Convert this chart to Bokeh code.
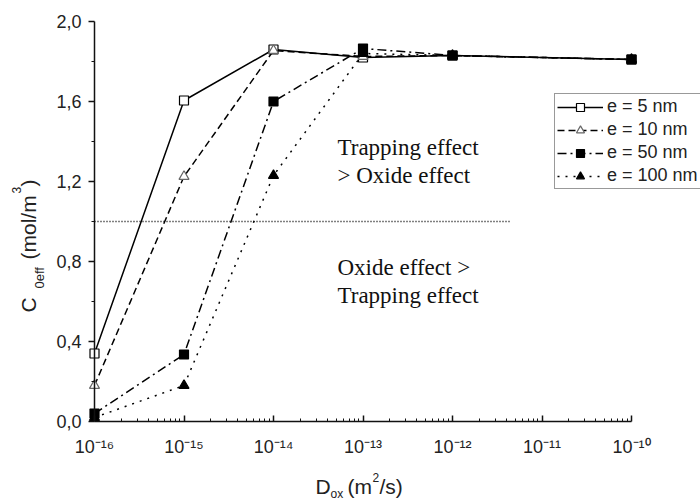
import math
from bokeh.plotting import figure
from bokeh.models import Range1d, FixedTicker, Label, Legend, LegendItem
from bokeh.embed import file_html
from bokeh.resources import INLINE

# ---------------- data ----------------
d_ox = [1e-16, 1e-15, 1e-14, 1e-13, 1e-12, 1e-10]
c_5nm = [0.34, 1.605, 1.86, 1.82, 1.83, 1.81]
c_10nm = [0.18, 1.225, 1.855, 1.825, 1.83, 1.81]
c_50nm = [0.04, 0.335, 1.60, 1.865, 1.83, 1.81]
c_100nm = [0.02, 0.18, 1.23, 1.84, 1.83, 1.81]
series_labels = ["e = 5 nm", "e = 10 nm", "e = 50 nm", "e = 100 nm"]

threshold_x = [1e-16, 4.5e-12]
threshold_y = [1.0, 1.0]

y_ticks = [0.0, 0.4, 0.8, 1.2, 1.6, 2.0]
y_minor = [0.2, 0.6, 1.0, 1.4, 1.8]
y_tick_labels = ["0,0", "0,4", "0,8", "1,2", "1,6", "2,0"]
x_ticks = [1e-16, 1e-15, 1e-14, 1e-13, 1e-12, 1e-11, 1e-10]
x_tick_labels = ["10⁻¹⁶", "10⁻¹⁵", "10⁻¹⁴", "10⁻¹³", "10⁻¹²", "10⁻¹¹", "10⁻¹⁰"]

# ---------------- layout ----------------
W, H = 700, 500
FL, FR, FT, FB = 94, 631, 21, 421   # where the axes sit, canvas px
X0, X1 = 1e-16, 1e-10
Y0, Y1 = 0.0, 2.0

def sx2x(sx):
    return 10 ** (math.log10(X0) + (sx - FL) / (FR - FL) * (math.log10(X1) - math.log10(X0)))

def sy2y(sy):
    return Y0 + (FB - sy) / (FB - FT) * (Y1 - Y0)

p = figure(width=W, height=H, x_axis_type="log",
           x_range=Range1d(sx2x(0), sx2x(W)), y_range=Range1d(sy2y(H), sy2y(0)),
           output_backend="svg", toolbar_location=None,
           min_border_left=0, min_border_right=0,
           min_border_top=0, min_border_bottom=0)
p.grid.visible = False
p.outline_line_color = None
p.background_fill_color = "white"
p.border_fill_color = "white"

x_minor = [k * 10.0 ** e for e in range(-16, -10) for k in range(2, 10)]
xa = p.xaxis[0]
xa.fixed_location = Y0
xa.bounds = (X0, X1)
xa.ticker = FixedTicker(ticks=x_ticks, minor_ticks=x_minor)
xa.major_label_overrides = dict(zip(x_ticks, x_tick_labels))
xa.major_tick_in = 6
xa.major_tick_out = 0
xa.minor_tick_in = 3
xa.minor_tick_out = 0
xa.major_label_standoff = 15
xa.major_label_text_font = "Liberation Sans"
xa.major_label_text_font_size = "18px"
xa.major_label_text_color = "#222222"

ya = p.yaxis[0]
ya.fixed_location = X0
ya.bounds = (Y0, Y1)
ya.ticker = FixedTicker(ticks=y_ticks, minor_ticks=y_minor)
ya.major_label_overrides = dict(zip(y_ticks, y_tick_labels))
ya.major_tick_in = 0
ya.major_tick_out = 6
ya.minor_tick_in = 0
ya.minor_tick_out = 3
ya.major_label_standoff = 7
ya.major_label_text_font = "Liberation Sans"
ya.major_label_text_font_size = "18px"
ya.major_label_text_color = "#222222"

for ax in (xa, ya):
    ax.axis_line_width = 1.5
    ax.axis_line_color = "#111111"
    ax.major_tick_line_width = 1.5
    ax.major_tick_line_color = "#111111"
    ax.minor_tick_line_color = "#111111"
    ax.minor_tick_line_width = 1

# ---------------- series ----------------
styles = [
    (c_5nm, "solid", "square", "white", "black", 9),
    (c_10nm, "7 4", "triangle", "white", "#666666", 10),
    (c_50nm, "9 4 2 4", "square", "black", "black", 9),
    (c_100nm, "2 6", "triangle", "black", "black", 10),
]
items = []
for (ys, dash, marker, fill, mline, size), lab in zip(styles, series_labels):
    lr = p.line(d_ox, ys, line_color="black", line_width=1.5, line_dash=dash)
    sr = p.scatter(d_ox, ys, marker=marker, size=size, fill_color=fill,
                   line_color=mline, line_width=1.2)
    items.append(LegendItem(label=lab, renderers=[lr, sr]))

p.line(threshold_x, threshold_y, line_color="black", line_width=1.5, line_dash="1 2")

legend = Legend(items=items, location=(554, H - 189),
                label_text_font="Liberation Sans", label_text_font_size="18px",
                label_text_color="#222222",
                glyph_width=46, glyph_height=20, label_height=20,
                label_standoff=4, spacing=2, padding=2, margin=0,
                border_line_color="#333333", border_line_width=1,
                background_fill_color="white", background_fill_alpha=1.0)
p.add_layout(legend)

# ---------------- annotations ----------------
serif = "Liberation Serif"
for txt, sy in [("Trapping effect", 147), ("> Oxide effect", 175),
                ("Oxide effect >", 267), ("Trapping effect", 295)]:
    p.add_layout(Label(x=sx2x(337), y=sy2y(sy), text=txt, text_font=serif,
                       text_font_size="23px", text_baseline="middle",
                       text_align="left", text_color="#111111"))

sans = "Liberation Sans"
BASE_FIX = 7  # measured offset of the rendered baseline

def piece(text, sx, sy, size, angle=0.0):
    if angle:
        sx -= BASE_FIX
    else:
        sy -= BASE_FIX
    p.add_layout(Label(x=sx2x(sx), y=sy2y(sy), text=text, text_font=sans,
                       text_font_size=size, text_baseline="alphabetic",
                       text_align="left", angle=angle, text_color="#222222"))

# x axis title: D_ox (m^2/s)
piece("D", 315, 493, "21px")
piece("ox", 330, 500, "12px")
piece("(m", 347, 493, "21px")
piece("2", 372, 484, "12px")
piece("/s)", 379, 493, "21px")

# y axis title: C_0eff (mol/m^3)
r = math.pi / 2
piece("C", 35, 312, "21px", r)
piece("0eff", 46, 288, "13px", r)
piece("(mol/m", 35, 259, "21px", r)
piece("3", 23, 193, "12px", r)
piece(")", 35, 186, "21px", r)

open("out.html", "w").write(file_html(p, INLINE))
